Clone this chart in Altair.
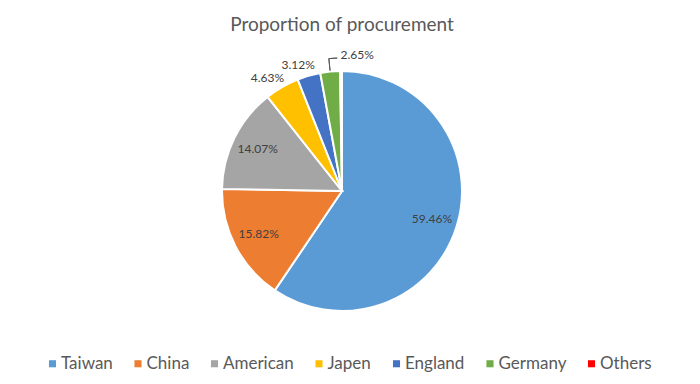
import math
import altair as alt
import pandas as pd

categories = ["Taiwan", "China", "American", "Japen", "England", "Germany", "Others"]
shares = [59.46, 15.82, 14.07, 4.63, 3.12, 2.65, 0.25]
colors = ["#5B9BD5", "#ED7D31", "#A5A5A5", "#FFC000", "#4472C4", "#70AD47", "#FF0000"]

df = pd.DataFrame({"category": categories, "share": shares})
df["end"] = df["share"].cumsum()
df["start"] = df["end"] - df["share"]
df["mid"] = (df["start"] + df["end"]) / 2
df["label"] = df["share"].map(lambda v: f"{v:.2f}%")

FONT = "Lato"
theta_scale = alt.Scale(domain=[0, 100], range=[0, 2 * math.pi])
color_scale = alt.Scale(domain=categories, range=colors)

base = alt.Chart(df)

pie = base.mark_arc(radius=120, stroke="white", strokeWidth=2).encode(
    theta=alt.Theta("start:Q", scale=theta_scale),
    theta2="end:Q",
    color=alt.Color(
        "category:N",
        scale=color_scale,
        sort=categories,
        legend=alt.Legend(
            orient="none",
            legendX=-178,
            legendY=284,
            direction="horizontal",
            columns=7,
            columnPadding=16.5,
            symbolType="square",
            symbolSize=50,
            symbolStrokeWidth=0,
            labelFont=FONT,
            labelFontSize=17,
            labelColor="#595959",
            labelOffset=0,
            padding=0,
            title=None,
        ),
    ),
)

inner = base.transform_filter(alt.datum.share >= 10).mark_text(
    radius=94, font=FONT, fontSize=12, color="#404040"
).encode(theta=alt.Theta("mid:Q", scale=theta_scale), text="label:N")

outer = base.transform_filter(
    (alt.datum.share < 10) & (alt.datum.share >= 3)
).mark_text(
    radius=137, dx=-6, dy=6, font=FONT, fontSize=12, color="#404040"
).encode(theta=alt.Theta("mid:Q", scale=theta_scale), text="label:N")

germ = base.transform_filter(alt.datum.category == "Germany")

germ_label = germ.mark_text(
    radius=137, align="left", dx=12, font=FONT, fontSize=12, color="#404040"
).encode(theta=alt.Theta("mid:Q", scale=theta_scale), text="label:N")

leader_v = germ.mark_arc(
    radius=133, radius2=121, stroke="#595959", strokeWidth=1, fillOpacity=0
).encode(theta=alt.Theta("mid:Q", scale=theta_scale), theta2="mid:Q")

leader_h = germ.transform_calculate(mid2="datum.mid + 1.0").mark_arc(
    radius=133, radius2=133, stroke="#595959", strokeWidth=1, fillOpacity=0
).encode(theta=alt.Theta("mid:Q", scale=theta_scale), theta2="mid2:Q")

chart = (
    alt.layer(pie, inner, outer, germ_label, leader_v, leader_h)
    .properties(
        width=240,
        height=240,
        autosize=alt.AutoSizeParams(type="none"),
        padding={"left": 222, "top": 71, "right": 238, "bottom": 73},
        title=alt.TitleParams(
            "Proportion of procurement",
            font=FONT,
            fontSize=19,
            fontWeight="normal",
            color="#595959",
            anchor="middle",
            frame="group",
            offset=14,
        ),
        background="white",
    )
    .configure_view(stroke=None)
)

chart.save("out.html", embed_options={"renderer": "svg", "actions": False})
